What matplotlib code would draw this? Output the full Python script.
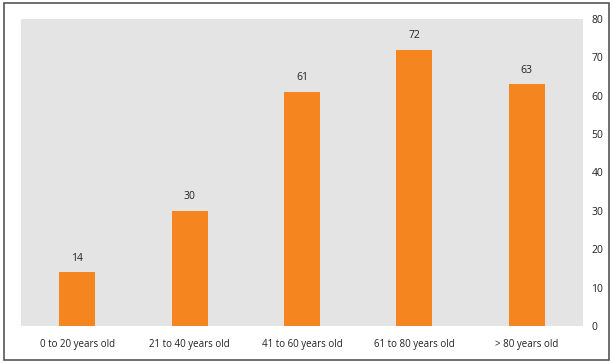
import matplotlib
matplotlib.use('Agg')
import matplotlib.pyplot as plt
from matplotlib.patches import Rectangle

# data
age_groups = ['0 to 20 years old', '21 to 40 years old', '41 to 60 years old',
              '61 to 80 years old', '> 80 years old']
values = [14, 30, 61, 72, 63]

plt.rcParams['font.family'] = ['Open Sans', 'DejaVu Sans']

fig = plt.figure(figsize=(6.13, 3.63), dpi=100)

# outer frame
fig.patches.append(Rectangle((4 / 613, 3 / 363), 605 / 613, 357 / 363, transform=fig.transFigure,
                             fill=False, edgecolor='#555555', linewidth=1.2))

ax = fig.add_axes([21 / 613, 1 - 326 / 363, 562 / 613, 307 / 363])
ax.set_facecolor('#e3e4e3')

x = range(len(values))
ax.bar(x, values, width=0.32, color='#f5861f')
for i, v in zip(x, values):
    ax.text(i, v + 2.2, str(v), ha='center', va='bottom', fontsize=7.5, color='#222222')

ax.set_xlim(-0.5, 4.5)
ax.set_ylim(0, 80)
ax.set_xticks(list(x))
ax.set_xticklabels(age_groups, fontsize=7, color='#222222')
ax.set_yticks(range(0, 81, 10))
ax.yaxis.tick_right()
ax.tick_params(axis='y', labelsize=7.5, colors='#222222', length=0, pad=6)
ax.tick_params(axis='x', length=0, pad=9)
for s in ax.spines.values():
    s.set_visible(False)

fig.savefig('out.png', dpi=100)
